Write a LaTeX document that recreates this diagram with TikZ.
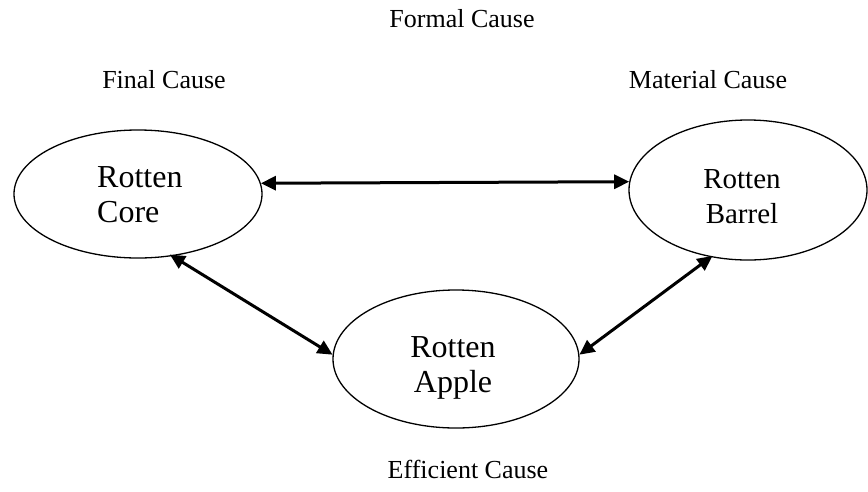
\documentclass[tikz,border=0pt]{standalone}
\usepackage{fontspec}
\setmainfont{Liberation Serif}
\usetikzlibrary{shapes.geometric,arrows.meta}
\begin{document}
\begin{tikzpicture}[x=1pt,y=-1pt,
  oval/.style={draw,ellipse,line width=1.3pt,inner sep=0pt},
  inner/.style={align=left,font=\fontsize{32}{35}\selectfont,inner sep=0pt},
  cause/.style={anchor=base,font=\fontsize{26}{30}\selectfont,inner sep=0pt},
  link/.style={{Triangle[length=15pt,width=14pt]}-{Triangle[length=15pt,width=14pt]},line width=3pt}]
\useasboundingbox (0,0) rectangle (868,491);
% ellipses
\node[oval,minimum width=248pt,minimum height=128pt] (core) at (138,194) {};
\node[oval,minimum width=238pt,minimum height=140pt] (barrel) at (748,190) {};
\node[oval,minimum width=246pt,minimum height=138pt] (apple) at (456,359) {};
% texts inside
\node[inner,anchor=base west] (tcore) at (97,222) {Rotten\\Core};
\node[inner,align=center,anchor=base,font=\fontsize{29}{35}\selectfont] (tbarrel) at (742,223) {Rotten\\Barrel};
\node[inner,align=center,anchor=base] (tapple) at (453,392) {Rotten\\Apple};
% cause labels
\node[cause] (formal) at (462,27) {Formal Cause};
\node[cause] (final) at (164,88) {Final Cause};
\node[cause] (material) at (708,88) {Material Cause};
\node[cause] (efficient) at (468,478) {Efficient Cause};
% connectors
\draw[link] (core.5.1) -- (barrel.176.6);
\draw[link,shorten <=-3pt] (core.-61.5) -- (apple.178);
\draw[link,shorten >=-2pt] (apple.2) -- (barrel.-119.4);
\end{tikzpicture}
\end{document}
